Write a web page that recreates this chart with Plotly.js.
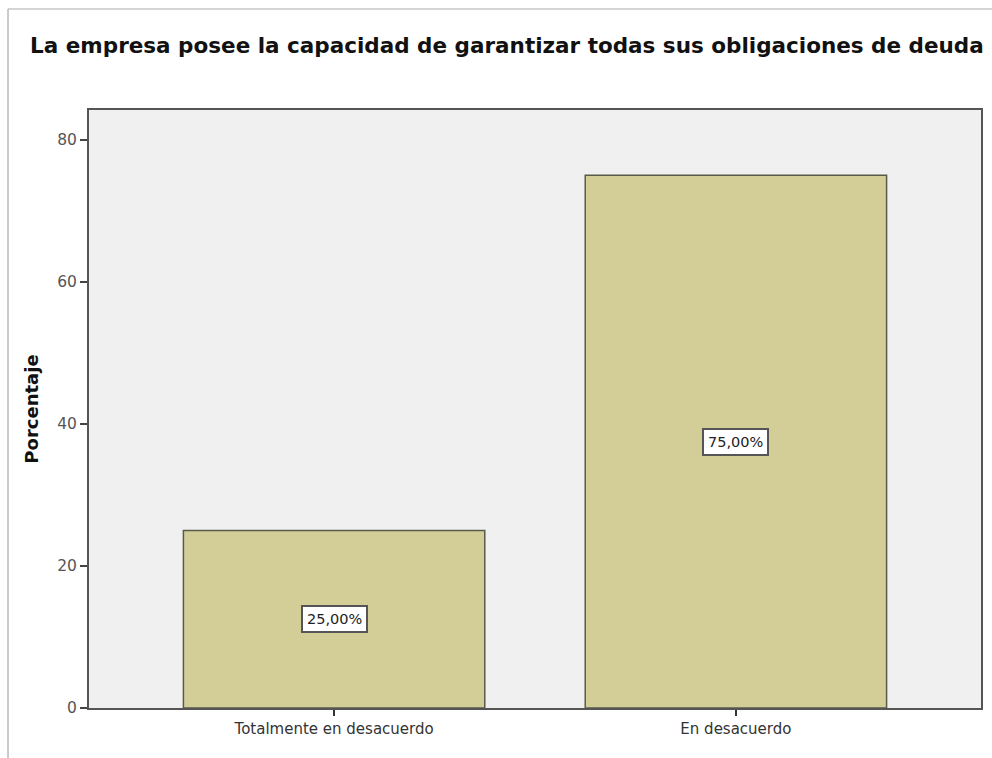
<!DOCTYPE html>
<html>
<head>
<meta charset="utf-8">
<script src="https://cdn.plot.ly/plotly-3.0.1.min.js"></script>
<style>
  html, body { margin: 0; padding: 0; background: #fff; }
  #chart { width: 992px; height: 758px; }
</style>
</head>
<body>
<div id="chart"></div>
<script>
const categories = ["Totalmente en desacuerdo", "En desacuerdo"];
const percentages = [25, 75];
const labelTexts = ["25,00%", "75,00%"];
const yTicks = [0, 20, 40, 60, 80];

const FONT = "DejaVu Sans, Arial, sans-serif";

const trace = {
  type: "bar",
  x: [0, 1],
  y: percentages,
  width: 0.75,
  marker: { color: "#D3CE97", line: { color: "#5a5a4a", width: 1.5 } },
  hoverinfo: "skip"
};

const annotations = percentages.map((v, i) => ({
  x: i, y: v / 2, xref: "x", yref: "y",
  text: labelTexts[i], showarrow: false,
  font: { family: FONT, size: 14.5, color: "#222" },
  bgcolor: "#ffffff", bordercolor: "#555", borderwidth: 2, borderpad: 4
}));

const layout = {
  width: 992, height: 758,
  margin: { l: 89, r: 11, t: 110, b: 50 },
  paper_bgcolor: "#ffffff",
  plot_bgcolor: "#F0F0F0",
  showlegend: false,
  title: {
    text: "<b>La empresa posee la capacidad de garantizar todas sus obligaciones de deuda</b>",
    font: { family: FONT, size: 21.5, color: "#111" },
    x: 0.511, xanchor: "center", y: 0.94, yanchor: "middle"
  },
  xaxis: {
    range: [-0.61, 1.61],
    tickvals: [0, 1], ticktext: categories,
    ticks: "outside", ticklen: 6, tickcolor: "#333", tickwidth: 1.5,
    tickfont: { family: FONT, size: 15, color: "#333" },
    showline: true, linecolor: "#555", linewidth: 2, mirror: true,
    showgrid: false, zeroline: false, fixedrange: true
  },
  yaxis: {
    range: [0, 84.2],
    tickvals: yTicks,
    ticks: "outside", ticklen: 7, tickcolor: "#444", tickwidth: 1.5,
    tickfont: { family: FONT, size: 15.5, color: "#555" },
    showline: true, linecolor: "#555", linewidth: 2, mirror: true,
    showgrid: false, zeroline: false, fixedrange: true,
    title: { text: "<b>Porcentaje</b>", standoff: 14,
      font: { family: FONT, size: 18, color: "#111" } }
  },
  annotations: annotations,
  shapes: [
    { type: "line", xref: "paper", yref: "paper", x0: -0.0908, x1: -0.0908, y0: -0.1, y1: 1.1689,
      line: { color: "#aaaaaa", width: 1.2 } },
    { type: "line", xref: "paper", yref: "paper", x0: -0.0908, x1: 1.05, y0: 1.1689, y1: 1.1689,
      line: { color: "#aaaaaa", width: 1.2 } }
  ]
};

Plotly.newPlot("chart", [trace], layout, { displayModeBar: false, staticPlot: true });
</script>
</body>
</html>
